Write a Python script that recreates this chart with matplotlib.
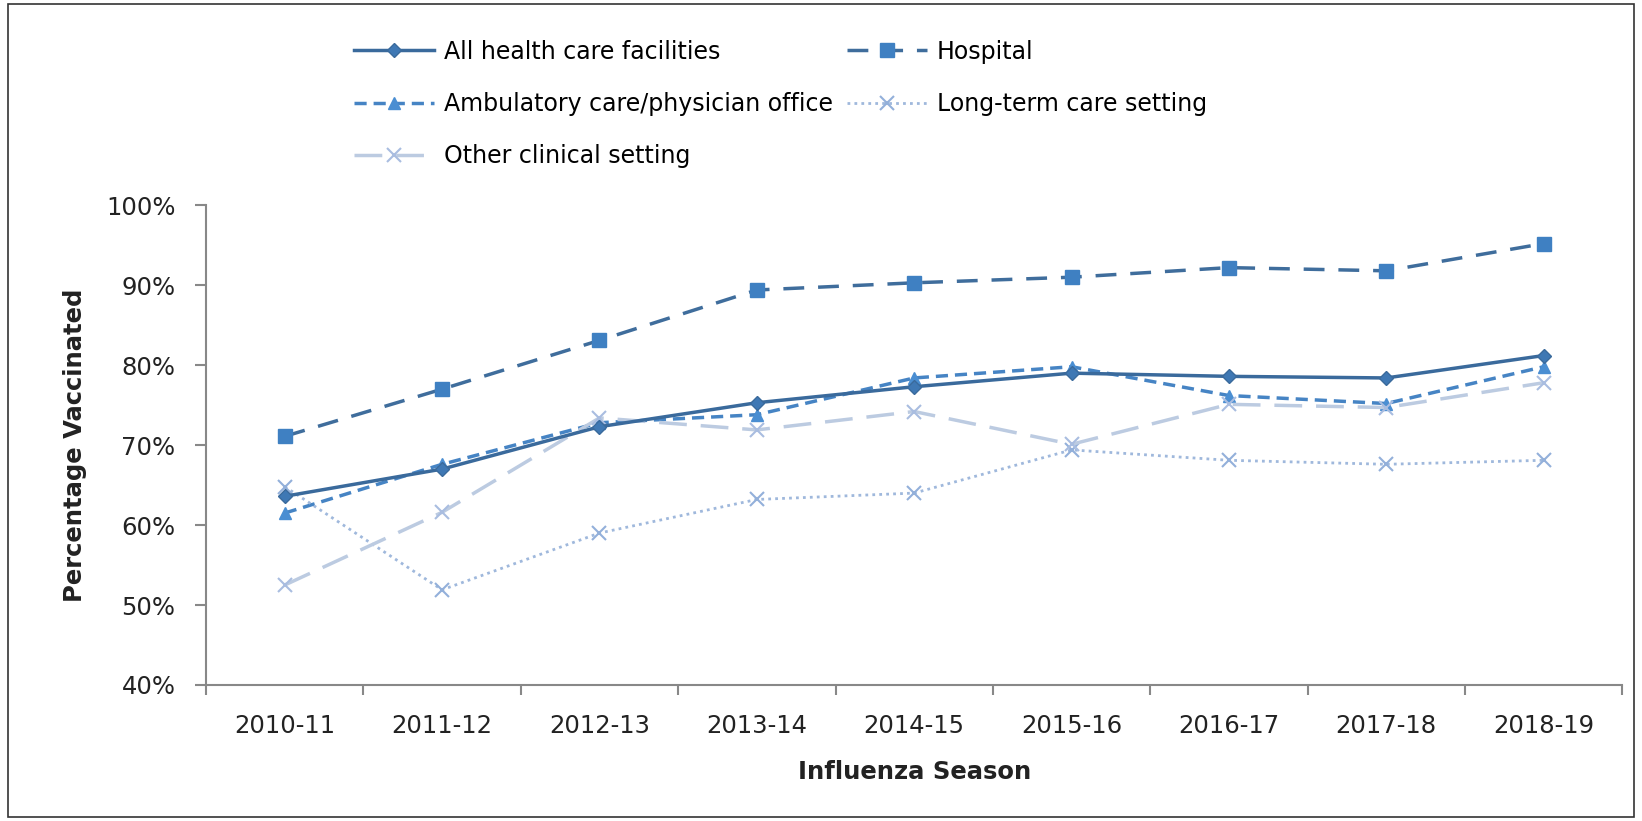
import matplotlib.pyplot as plt
from matplotlib.patches import Rectangle
from matplotlib.ticker import PercentFormatter

seasons = ['2010-11', '2011-12', '2012-13', '2013-14', '2014-15',
           '2015-16', '2016-17', '2017-18', '2018-19']
all_hcf = [63.6, 67.0, 72.3, 75.3, 77.3, 79.0, 78.6, 78.4, 81.2]
hospital = [71.1, 77.0, 83.1, 89.4, 90.3, 91.0, 92.2, 91.8, 95.2]
ambulatory = [61.5, 67.6, 72.8, 73.8, 78.4, 79.8, 76.2, 75.2, 79.8]
long_term = [64.8, 51.9, 59.0, 63.2, 64.0, 69.4, 68.1, 67.6, 68.1]
other = [52.5, 61.6, 73.4, 71.9, 74.2, 70.1, 75.1, 74.7, 77.8]

plt.rcParams['font.family'] = ['DejaVu Sans']

fig = plt.figure(figsize=(16.42, 8.21), dpi=100)
ax = fig.add_axes([0.1255, 0.1657, 0.8625, 0.5843])
x = range(len(seasons))

h_all, = ax.plot(x, all_hcf, color='#3a6a9c', linewidth=2.5, marker='D',
                 markersize=7, mfc='#3f78b4', mec='#3a6a9c', zorder=5,
                 label='All health care facilities')
h_hosp, = ax.plot(x, hospital, color='#3f6d9c', linewidth=2.5, dashes=(6, 4),
                  marker='s', markersize=10, mfc='#3f80c2', mec='#3f80c2',
                  label='Hospital')
h_amb, = ax.plot(x, ambulatory, color='#4684c4', linewidth=2.5, dashes=(3.5, 2),
                 marker='^', markersize=9, mfc='#4a8ed2', mec='#4a8ed2',
                 label='Ambulatory care/physician office')
h_lt, = ax.plot(x, long_term, color='#9fb8dc', linewidth=2, linestyle=(0, (1, 1.5)),
                marker='x', markersize=10, mew=1.5, mec='#93b0da',
                label='Long-term care setting')
h_oth, = ax.plot(x, other, color='#bccbe1', linewidth=2.5, dashes=(8, 4),
                 marker='x', markersize=10, mew=1.5, mec='#a9bde0',
                 label='Other clinical setting')

ax.set_xlim(-0.5, len(seasons) - 0.5)
ax.set_ylim(40, 100)
ax.set_yticks(range(40, 101, 10))
ax.yaxis.set_major_formatter(PercentFormatter(decimals=0))
ax.set_xticks(list(x))
ax.set_xticklabels(seasons)
ax.set_xticks([i - 0.5 for i in range(len(seasons) + 1)], minor=True)
ax.tick_params(axis='x', which='major', length=0, pad=21, labelsize=17.5, labelcolor='#222222')
ax.tick_params(axis='x', which='minor', length=7, color='#888888', width=1.5)
ax.tick_params(axis='y', length=8, color='#888888', width=1.5, labelsize=17.5,
               labelcolor='#222222', pad=14)

for side in ['top', 'right']:
    ax.spines[side].set_visible(False)
for side in ['left', 'bottom']:
    ax.spines[side].set_color('#888888')
    ax.spines[side].set_linewidth(1.5)

ax.set_xlabel('Influenza Season', fontsize=17.5, fontweight='bold', labelpad=16, color='#222222')
ax.set_ylabel('Percentage Vaccinated', fontsize=17.5, fontweight='bold', labelpad=14, color='#222222')

fig.legend(handles=[h_all, h_amb, h_oth, h_hosp, h_lt], loc='upper left',
           bbox_to_anchor=(0.2085, 0.966), ncol=2, frameon=False, fontsize=17,
           handlelength=3.4, labelspacing=1.2, columnspacing=0.6,
           handletextpad=0.4, borderpad=0)

fig.patches.append(Rectangle((0.005, 0.005), 0.99, 0.99, transform=fig.transFigure,
                             fill=False, edgecolor='#333333', linewidth=1.2))

fig.savefig('out.png', dpi=100)
